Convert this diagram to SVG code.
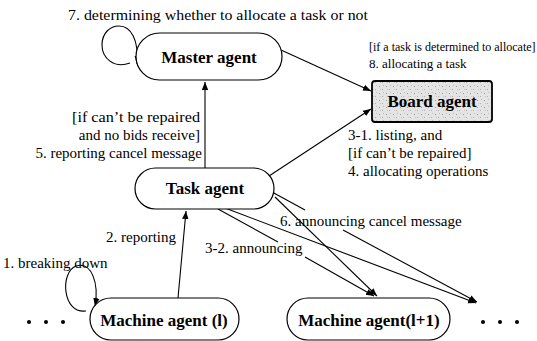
<svg xmlns="http://www.w3.org/2000/svg" width="537" height="341" viewBox="0 0 537 341">
<style>
.node{fill:#fff;stroke:#000;stroke-width:1.2}
.board{fill:url(#speckle);stroke:#000;stroke-width:1.8}
.nl{font-family:"Liberation Serif","Times New Roman",serif;font-weight:bold;font-size:17px;fill:#000;text-anchor:middle}
.lb{font-family:"Liberation Serif","Times New Roman",serif;font-size:15px;fill:#000}
.sm{font-size:13px}
.xs{font-size:12px}
.end{text-anchor:end}
.c{fill:none;stroke:#000;stroke-width:1.1;marker-end:url(#ah)}
.dot{fill:#000}
</style>
<defs>
<marker id="ah" viewBox="0 0 10 10" refX="10" refY="5" markerWidth="8" markerHeight="8" markerUnits="userSpaceOnUse" orient="auto">
<path d="M0,1 L10,5 L0,9 Z" fill="#000"/>
</marker>
<pattern id="speckle" width="7" height="7" patternUnits="userSpaceOnUse">
<rect width="7" height="7" fill="#e4e4e4"/>
<rect x="1" y="2" width="1" height="1" fill="#9a9a9a"/>
<rect x="4" y="5" width="1" height="1" fill="#b0b0b0"/>
<rect x="5" y="1" width="1" height="1" fill="#c0c0c0"/>
<rect x="2" y="5" width="1" height="1" fill="#c8c8c8"/>
</pattern>
</defs>

<g id="connectors">
<path class="c" d="M130,63 C114,69 102,58 102,45 C102,33 110,26 119,26 C131,26 139,40 137,64"/>
<path class="c" d="M281,50 L371,91"/>
<path class="c" d="M269,176 L371,109"/>
<path class="c" d="M205,168 L205,82"/>
<path class="c" d="M178,298 L186,211"/>
<path class="c" d="M86,311 C62,314 60,272 76,266 C92,261 99,284 95,306"/>
<path class="c" d="M218,209 L278,242 M305,257 L374,296"/>
<path class="c" d="M225,208 L476,303"/>
<path class="c" d="M275,197 L377,296"/>
<path class="c" d="M272,192 L305,210 M343,230 L477,302"/>
</g>

<g id="master">
<rect class="node" x="136" y="33" width="146" height="47" rx="23.5"/>
<text class="nl" x="209" y="63">Master agent</text>
</g>
<g id="board">
<rect class="board" x="372" y="81" width="120" height="41" rx="3"/>
<text class="nl" x="432" y="107">Board agent</text>
</g>
<g id="task">
<rect class="node" x="135" y="168" width="139" height="41" rx="20.5"/>
<text class="nl" x="205" y="194">Task agent</text>
</g>
<g id="machine-l">
<rect class="node" x="90" y="298" width="149" height="42" rx="21"/>
<text class="nl" x="164" y="326">Machine agent (l)</text>
</g>
<g id="machine-l1">
<rect class="node" x="287" y="298" width="163" height="42" rx="21"/>
<text class="nl" x="369" y="326">Machine agent(l+1)</text>
</g>
<g id="dots-left">
<circle class="dot" cx="29" cy="322" r="2"/>
<circle class="dot" cx="46" cy="322" r="2"/>
<circle class="dot" cx="63" cy="322" r="2"/>
</g>
<g id="dots-right">
<circle class="dot" cx="483" cy="322" r="2"/>
<circle class="dot" cx="500" cy="322" r="2"/>
<circle class="dot" cx="517" cy="322" r="2"/>
</g>

<g id="labels">
<text class="lb" x="68" y="20" textLength="300" lengthAdjust="spacingAndGlyphs">7. determining whether to allocate a task or not</text>
<text class="lb xs" x="369" y="51">[if a task is determined to allocate]</text>
<text class="lb sm" x="369" y="68">8. allocating a task</text>
<text class="lb end" x="200" y="122" textLength="128" lengthAdjust="spacingAndGlyphs">[if can’t be repaired</text>
<text class="lb end" x="200" y="140">and no bids receive]</text>
<text class="lb end" x="202" y="158">5. reporting cancel message</text>
<text class="lb" x="348" y="140">3-1. listing, and</text>
<text class="lb" x="348" y="158">[if can’t be repaired]</text>
<text class="lb" x="348" y="176">4. allocating operations</text>
<text class="lb" x="280" y="226">6. announcing cancel message</text>
<text class="lb end" x="176" y="242">2. reporting</text>
<text class="lb" x="205" y="253">3-2. announcing</text>
<text class="lb" x="3" y="268">1. breaking down</text>
</g>
</svg>
